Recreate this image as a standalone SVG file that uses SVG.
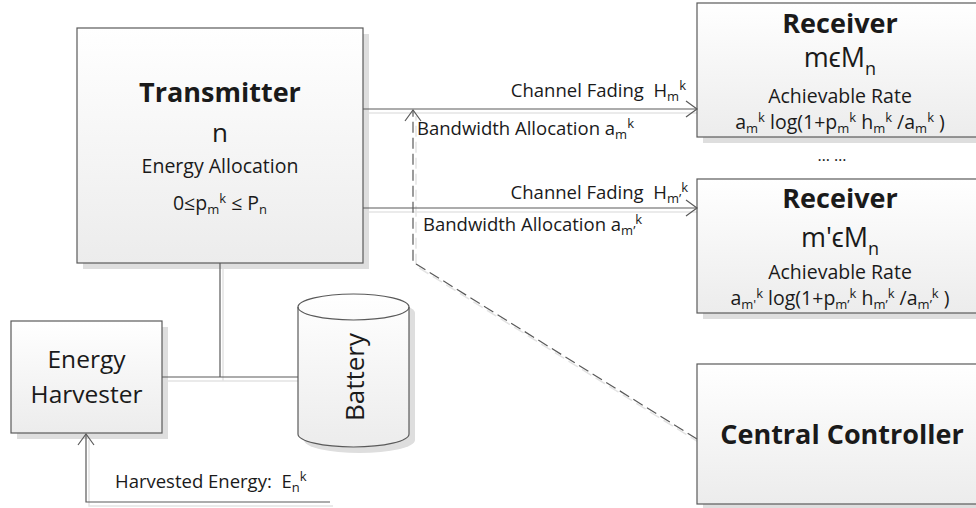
<svg xmlns="http://www.w3.org/2000/svg" width="976" height="508" viewBox="0 0 976 508">
<style>
text{font-family:"Open Sans","Liberation Sans",sans-serif;fill:#1a1a1a}
.b27{font-size:27px;font-weight:bold}
.r26{font-size:26px}
.r24{font-size:24.5px}
.r19{font-size:19.5px}
.r18{font-size:18.5px}
.sb{font-size:13px}
.sp{font-size:13px}
.box{fill:url(#g);stroke:#5a5a5a;stroke-width:1.2}
.sh{fill:#dedede}
.ln{fill:none;stroke:#5a5a5a;stroke-width:1.2}
.lsh{fill:none;stroke:#e4e4e4;stroke-width:1.5}
.dash{stroke-dasharray:11 5}
</style>
<defs>
<linearGradient id="g" x1="0" y1="0" x2="0" y2="1">
<stop offset="0" stop-color="#ffffff"/>
<stop offset="1" stop-color="#ececec"/>
</linearGradient>
<marker id="arr" viewBox="-13 -10 15 20" refX="0" refY="0" markerWidth="15" markerHeight="20" markerUnits="userSpaceOnUse" orient="auto">
<path d="M-11,-8 L0,0 L-11,8" fill="none" stroke="#5a5a5a" stroke-width="1.2"/>
</marker>
</defs>

<g id="connector-shadows" transform="translate(3,4)">
<path class="lsh" d="M363,109 L697,109"/>
<path class="lsh" d="M363,208 L697,208"/>
<path class="lsh dash" d="M697,439 L413,262 L413,112"/>
<path class="lsh" d="M220,263 L220,377 M162,377 L298,377"/>
<path class="lsh" d="M330,502 L86,502 L86,436"/>
</g>

<g id="transmitter">
<rect class="sh" x="83" y="34" width="286" height="235"/>
<rect class="box" x="77" y="28" width="286" height="235"/>
<text class="b27" x="220" y="102" text-anchor="middle">Transmitter</text>
<text class="r26" x="220" y="142" text-anchor="middle">n</text>
<text class="r19" x="220" y="173" text-anchor="middle">Energy Allocation</text>
<text class="r19" x="220" y="210" text-anchor="middle">0≤p<tspan class="sb" dy="4">m</tspan><tspan class="sp" dy="-11">k</tspan><tspan dy="7"> ≤ P</tspan><tspan class="sb" dy="4">n</tspan></text>
</g>

<g id="receiver-1">
<rect class="sh" x="703" y="9" width="300" height="134"/>
<rect class="box" x="697" y="3" width="300" height="134"/>
<text class="b27" x="840" y="33" text-anchor="middle">Receiver</text>
<text x="840" y="67" font-size="27" text-anchor="middle">mϵM<tspan font-size="18" dy="8">n</tspan></text>
<text class="r19" x="840" y="103" text-anchor="middle">Achievable Rate</text>
<text class="r19" x="840" y="129" text-anchor="middle">a<tspan class="sb" dy="4">m</tspan><tspan class="sp" dy="-11">k</tspan><tspan dy="7"> log(1+p</tspan><tspan class="sb" dy="4">m</tspan><tspan class="sp" dy="-11">k</tspan><tspan dy="7"> h</tspan><tspan class="sb" dy="4">m</tspan><tspan class="sp" dy="-11">k</tspan><tspan dy="7"> /a</tspan><tspan class="sb" dy="4">m</tspan><tspan class="sp" dy="-11">k</tspan><tspan dy="7"> )</tspan></text>
</g>

<text x="832" y="161" font-size="16" text-anchor="middle">… …</text>

<g id="receiver-2">
<rect class="sh" x="703" y="185" width="300" height="134"/>
<rect class="box" x="697" y="179" width="300" height="134"/>
<text class="b27" x="840" y="208" text-anchor="middle">Receiver</text>
<text x="840" y="247" font-size="27" text-anchor="middle">m'ϵM<tspan font-size="18" dy="8">n</tspan></text>
<text class="r19" x="840" y="279" text-anchor="middle">Achievable Rate</text>
<text class="r19" x="840" y="305" text-anchor="middle">a<tspan class="sb" dy="4">m'</tspan><tspan class="sp" dy="-11">k</tspan><tspan dy="7"> log(1+p</tspan><tspan class="sb" dy="4">m’</tspan><tspan class="sp" dy="-11">k</tspan><tspan dy="7"> h</tspan><tspan class="sb" dy="4">m’</tspan><tspan class="sp" dy="-11">k</tspan><tspan dy="7"> /a</tspan><tspan class="sb" dy="4">m’</tspan><tspan class="sp" dy="-11">k</tspan><tspan dy="7"> )</tspan></text>
</g>

<g id="central-controller">
<rect class="sh" x="703" y="370" width="300" height="140"/>
<rect class="box" x="697" y="364" width="300" height="140"/>
<text class="b27" x="842" y="444" text-anchor="middle">Central Controller</text>
</g>

<g id="energy-harvester">
<rect class="sh" x="17" y="327" width="151" height="112"/>
<rect class="box" x="11" y="321" width="151" height="112"/>
<text class="r24" x="86.5" y="368" text-anchor="middle">Energy</text>
<text class="r24" x="86.5" y="403" text-anchor="middle">Harvester</text>
</g>

<g id="battery">
<path class="sh" d="M304,313 L304,440 A55.5,13 0 0 0 415,440 L415,313 A55.5,13 0 0 0 304,313 Z"/>
<path class="box" d="M298,307 L298,434 A55.5,13 0 0 0 409,434 L409,307 A55.5,13 0 0 0 298,307 Z"/>
<path class="ln" d="M298,307 A55.5,13 0 0 0 409,307"/>
<text class="r26" x="0" y="0" text-anchor="middle" transform="translate(364,377) rotate(-90)">Battery</text>
</g>

<g id="connectors">
<path class="ln" d="M363,109 L697,109" marker-end="url(#arr)"/>
<path class="ln" d="M363,208 L697,208" marker-end="url(#arr)"/>
<path class="ln dash" d="M697,439 L413,262 L413,110" marker-end="url(#arr)"/>
<path class="ln" d="M220,263 L220,377 M162,377 L298,377"/>
<path class="ln" d="M330,502 L86,502 L86,434" marker-end="url(#arr)"/>
<text class="r18" x="686" y="97" text-anchor="end">Channel Fading&#160; H<tspan class="sb" dy="4">m</tspan><tspan class="sp" dy="-11">k</tspan></text>
<text class="r18" x="417" y="135">Bandwidth Allocation a<tspan class="sb" dy="4">m</tspan><tspan class="sp" dy="-11">k</tspan></text>
<text class="r18" x="688" y="199" text-anchor="end">Channel Fading&#160; H<tspan class="sb" dy="4">m’</tspan><tspan class="sp" dy="-11">k</tspan></text>
<text class="r18" x="423" y="231">Bandwidth Allocation a<tspan class="sb" dy="4">m’</tspan><tspan class="sp" dy="-11">k</tspan></text>
<text class="r18" x="115" y="488">Harvested Energy:&#160; E<tspan class="sb" dy="4">n</tspan><tspan class="sp" dy="-11">k</tspan></text>
</g>
</svg>
